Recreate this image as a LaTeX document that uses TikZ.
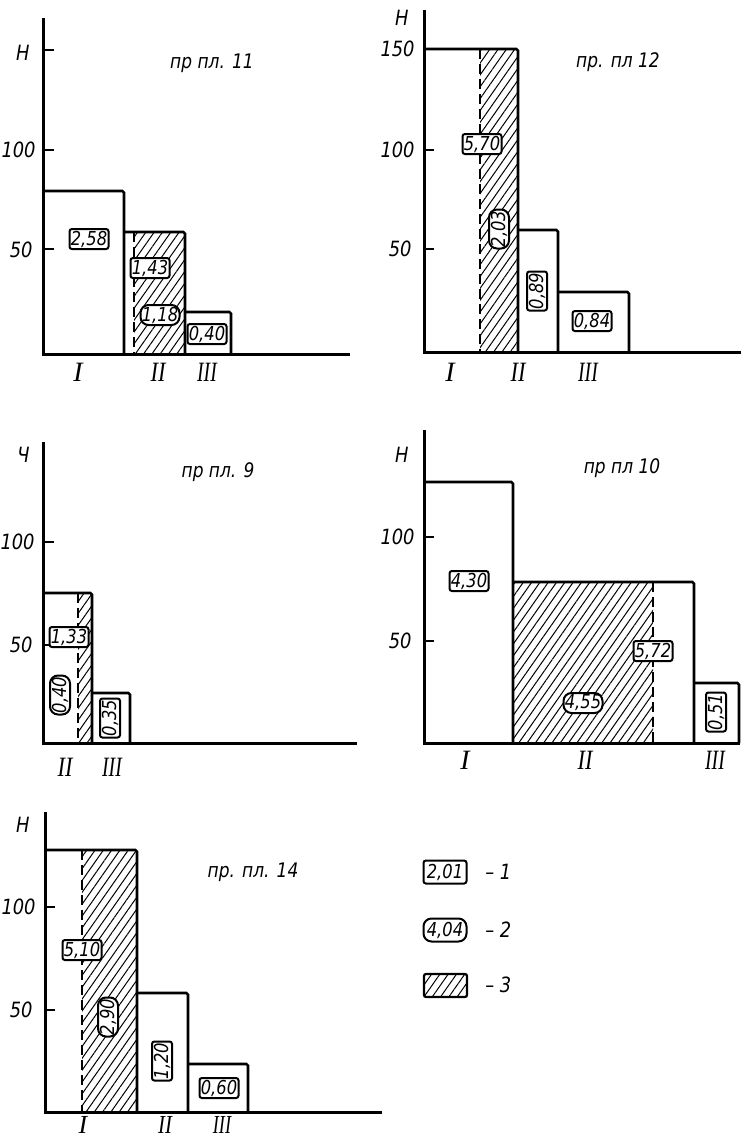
\documentclass[tikz,border=0pt]{standalone}
\usepackage{fontspec}
\newfontfamily\dr{DejaVu Sans}[FakeStretch=0.85]
\newfontfamily\rom{Liberation Serif}
\usetikzlibrary{patterns.meta}
\begin{document}
\begin{tikzpicture}[x=0.5pt,y=-0.5pt,
 axisline/.style={line width=1.5pt},
 barline/.style={line width=1.3pt, rounded corners=0.8pt},
 hatchfill/.style={pattern={Lines[angle=55,distance=3.4pt,line width=0.5pt]}},
 cutline/.style={line width=1.2pt, dash pattern=on 5pt off 2.5pt},
 tickline/.style={line width=1pt},
 vallab/.style={draw, fill=white, line width=1pt, rounded corners=1.2pt, inner sep=0.6pt, minimum width=19.5pt, minimum height=10pt, font=\dr\itshape\fontsize{9.6}{9.6}\selectfont},
 valround/.style={vallab, rounded corners=4pt},
 ticklab/.style={anchor=east, inner sep=0pt, font=\dr\itshape\fontsize{10.5}{10.5}\selectfont},
 titlelab/.style={inner sep=0pt, font=\dr\itshape\fontsize{10}{10}\selectfont},
 romlab/.style={inner sep=0pt, font=\rom\itshape\fontsize{14}{14}\selectfont},
 leglab/.style={anchor=west, inner sep=0pt, font=\dr\itshape\fontsize{10.5}{10.5}\selectfont},
]
\useasboundingbox (0,0) rectangle (741,1140);

% ===== Chart 1: pr pl. 11 =====
\path[hatchfill] (134,232) rectangle (185,354);
\draw[barline] (43,191) -- (124,191) -- (124,354);
\draw[barline] (124,232) -- (185,232) -- (185,354);
\draw[barline] (185,312) -- (231,312) -- (231,354);
\draw[cutline] (134,232) -- (134,354);
\draw[axisline] (43,18) -- (43,354) -- (350,354);
\draw[tickline] (43,50) -- (54,50) (43,150) -- (54,150) (43,249) -- (54,249);
\node[ticklab] (a-h) at (30,53) {Н};
\node[ticklab] (a-100) at (36,150) {100};
\node[ticklab] (a-50) at (33,250) {50};
\node[titlelab] (a-title) at (212,63) {пр пл. 11};
\node[vallab] (a-1) at (89,239) {2,58};
\node[vallab] (a-2) at (150,268) {1,43};
\node[valround] (a-3) at (160,315) {1,18};
\node[vallab] (a-4) at (207,334) {0,40};
\node[romlab] (a-r1) at (78,372) {I};
\node[romlab] (a-r2) at (158,372) {\scalebox{0.8}[1]{II}};
\node[romlab] (a-r3) at (207,372) {\scalebox{0.7}[1]{III}};

% ===== Chart 2: pr. pl 12 =====
\path[hatchfill] (480,49) rectangle (518,352);
\draw[barline] (424,49) -- (518,49) -- (518,352);
\draw[barline] (518,230) -- (558,230) -- (558,352);
\draw[barline] (558,292) -- (629,292) -- (629,352);
\draw[cutline] (480,49) -- (480,352);
\draw[axisline] (424,10) -- (424,352) -- (741,352);
\draw[tickline] (424,49) -- (434,49) (424,150) -- (434,150) (424,249) -- (434,249);
\node[ticklab] (b-h) at (409,18) {Н};
\node[ticklab] (b-150) at (415,49) {150};
\node[ticklab] (b-100) at (415,150) {100};
\node[ticklab] (b-50) at (412,249) {50};
\node[titlelab] (b-title) at (618,62) {пр. пл 12};
\node[vallab] (b-1) at (482,144) {5,70};
\node[valround, rotate=90] (b-2) at (499,229) {2,03};
\node[vallab, rotate=90] (b-3) at (537,291) {0,89};
\node[vallab] (b-4) at (592,321) {0,84};
\node[romlab] (b-r1) at (450,372) {I};
\node[romlab] (b-r2) at (518,372) {\scalebox{0.8}[1]{II}};
\node[romlab] (b-r3) at (588,372) {\scalebox{0.7}[1]{III}};

% ===== Chart 3: pr pl. 9 =====
\path[hatchfill] (78,593) rectangle (92,743);
\draw[barline] (43,593) -- (92,593) -- (92,743);
\draw[barline] (92,693) -- (130,693) -- (130,743);
\draw[cutline] (78,593) -- (78,743);
\draw[axisline] (43,442) -- (43,743) -- (357,743);
\draw[tickline] (43,542) -- (54,542) (43,645) -- (54,645);
\node[ticklab] (c-h) at (30,455) {Ч};
\node[ticklab] (c-100) at (35,542) {100};
\node[ticklab] (c-50) at (33,645) {50};
\node[titlelab] (c-title) at (218,472) {пр пл. 9};
\node[vallab] (c-1) at (69,637) {1,33};
\node[valround, rotate=90] (c-2) at (60,695) {0,40};
\node[vallab, rotate=90] (c-3) at (110,718) {0,35};
\node[romlab] (c-r2) at (65,767) {\scalebox{0.8}[1]{II}};
\node[romlab] (c-r3) at (112,767) {\scalebox{0.7}[1]{III}};

% ===== Chart 4: pr pl 10 =====
\path[hatchfill] (513,582) rectangle (653,743);
\draw[barline] (424,482) -- (513,482) -- (513,743);
\draw[barline] (513,582) -- (694,582) -- (694,743);
\draw[barline] (694,683) -- (739,683) -- (739,743);
\draw[cutline] (653,582) -- (653,743);
\draw[axisline] (424,430) -- (424,743) -- (740,743);
\draw[tickline] (424,537) -- (434,537) (424,641) -- (434,641);
\node[ticklab] (d-h) at (409,455) {Н};
\node[ticklab] (d-100) at (415,537) {100};
\node[ticklab] (d-50) at (412,641) {50};
\node[titlelab] (d-title) at (622,468) {пр пл 10};
\node[vallab] (d-1) at (469,581) {4,30};
\node[vallab] (d-2) at (653,651) {5,72};
\node[valround] (d-3) at (583,703) {4,55};
\node[vallab, rotate=90] (d-4) at (716,712) {0,51};
\node[romlab] (d-r1) at (465,760) {I};
\node[romlab] (d-r2) at (585,760) {\scalebox{0.8}[1]{II}};
\node[romlab] (d-r3) at (715,760) {\scalebox{0.7}[1]{III}};

% ===== Chart 5: pr. pl. 14 =====
\path[hatchfill] (82,850) rectangle (137,1112);
\draw[barline] (45,850) -- (137,850) -- (137,1112);
\draw[barline] (137,993) -- (188,993) -- (188,1112);
\draw[barline] (188,1064) -- (248,1064) -- (248,1112);
\draw[cutline] (82,850) -- (82,1112);
\draw[axisline] (45,812) -- (45,1112) -- (382,1112);
\draw[tickline] (45,907) -- (55,907) (45,1010) -- (55,1010);
\node[ticklab] (e-h) at (30,825) {Н};
\node[ticklab] (e-100) at (36,907) {100};
\node[ticklab] (e-50) at (33,1010) {50};
\node[titlelab] (e-title) at (253,872) {пр. пл. 14};
\node[vallab] (e-1) at (82,950) {5,10};
\node[valround, rotate=90] (e-2) at (108,1017) {2,90};
\node[vallab, rotate=90] (e-3) at (162,1061) {1,20};
\node[vallab] (e-4) at (219,1088) {0,60};
\node[romlab, font=\rom\itshape\fontsize{13}{13}\selectfont] (e-r1) at (83,1125) {I};
\node[romlab, font=\rom\itshape\fontsize{13}{13}\selectfont] (e-r2) at (165,1125) {\scalebox{0.8}[1]{II}};
\node[romlab, font=\rom\itshape\fontsize{13}{13}\selectfont] (e-r3) at (222,1125) {\scalebox{0.7}[1]{III}};

% ===== Legend =====
\node[vallab, minimum width=21.5pt, minimum height=11.5pt] (l-1) at (445,872) {2,01};
\node[valround, minimum width=21.5pt, minimum height=11.5pt] (l-2) at (445,930) {4,04};
\draw[hatchfill, line width=1.1pt, rounded corners=1pt] (424,974) rectangle (467,997);
\node[leglab] (l-t1) at (485,872) {– 1};
\node[leglab] (l-t2) at (485,930) {– 2};
\node[leglab] (l-t3) at (485,985) {– 3};
\end{tikzpicture}
\end{document}
